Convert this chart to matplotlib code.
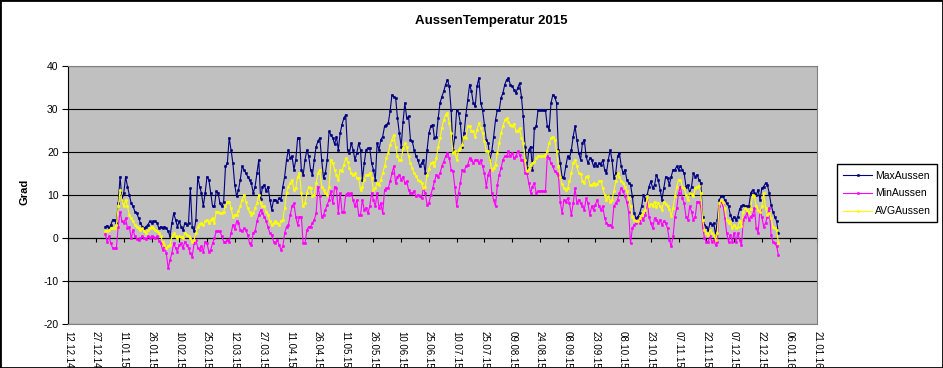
import matplotlib
matplotlib.use('Agg')
import matplotlib.pyplot as plt
import matplotlib.dates as mdates
from matplotlib.patches import Rectangle
import pandas as pd

plt.rcParams['font.family'] = ['Liberation Sans', 'DejaVu Sans']
plt.rcParams['axes.unicode_minus'] = False

# daily values 2015 (one row per month)
maxAussen = [
    2.7, 2.9, 2.3, 3.1, 4.3, 4.3, 3.5, 8.1, 14.3, 8.9, 10.5, 14.3, 12.0, 10.1, 8.1, 7.4, 6.2, 5.8, 4.7, 3.5, 2.7, 2.3, 2.7, 3.1, 3.9, 3.5, 3.9, 3.9, 3.5, 2.3, 2.7,
    2.3, 2.7, 2.3, 1.6, 0.4, 3.5, 5.8, 4.3, 2.7, 3.9, 2.7, 1.9, 3.5, 3.1, 3.5, 11.6, 2.7, 1.6, 4.3, 14.3, 12.0, 10.5, 7.4, 10.5, 14.3, 13.6, 10.5, 7.4,
    7.4, 10.9, 10.5, 8.1, 7.4, 8.5, 16.7, 17.4, 23.3, 20.5, 17.4, 12.4, 9.7, 11.2, 13.6, 16.7, 15.9, 15.1, 14.3, 13.6, 12.8, 10.5, 12.0, 15.1, 18.2, 9.0, 12.0, 12.4, 10.9, 12.0, 8.9,
    6.6, 8.9, 8.9, 8.5, 9.3, 8.9, 12.0, 14.3, 18.2, 20.5, 18.6, 19.0, 15.9, 18.2, 23.3, 23.3, 15.9, 14.7, 18.2, 20.5, 19.0, 15.9, 14.7, 18.2, 21.3, 22.5, 23.3, 18.2, 14.0, 15.1,
    18.2, 24.8, 24.0, 23.3, 21.8, 23.6, 20.5, 24.4, 26.4, 27.9, 28.7, 20.5, 19.8, 22.1, 20.5, 18.2, 19.8, 22.1, 20.5, 13.6, 17.4, 20.5, 20.9, 20.9, 17.4, 15.9, 13.6, 22.1, 20.5, 22.9, 23.6,
    26.0, 26.4, 26.7, 29.5, 33.3, 32.9, 32.6, 27.9, 24.4, 21.3, 27.1, 31.4, 27.9, 28.3, 22.9, 22.5, 20.5, 19.0, 18.2, 16.7, 17.4, 18.2, 15.1, 20.5, 24.4, 26.0, 26.4, 23.3, 23.6, 27.9,
    31.4, 32.9, 34.1, 35.7, 36.8, 35.3, 29.8, 20.5, 23.6, 29.8, 29.1, 26.7, 21.3, 24.4, 28.7, 32.2, 35.7, 34.1, 31.4, 30.6, 35.3, 37.2, 31.4, 29.8, 26.4, 22.9, 22.1, 18.2, 20.2, 23.6, 27.5,
    29.8, 29.8, 32.6, 33.7, 35.7, 36.8, 37.2, 35.7, 35.3, 34.5, 33.7, 34.9, 36.0, 32.9, 28.3, 21.3, 16.3, 20.5, 21.3, 15.9, 25.6, 26.0, 29.8, 29.8, 29.8, 29.8, 29.8, 26.0, 25.2, 31.4, 33.3,
    32.9, 31.4, 20.5, 17.4, 14.3, 14.0, 16.7, 19.0, 18.6, 20.5, 23.6, 26.0, 22.9, 19.8, 18.2, 22.1, 22.9, 19.0, 17.4, 18.6, 18.2, 16.7, 17.4, 16.7, 17.4, 17.1, 18.2, 15.9, 15.1, 18.2,
    20.5, 18.2, 14.0, 15.1, 19.0, 19.8, 16.7, 15.1, 15.9, 13.6, 12.8, 12.4, 9.7, 5.8, 4.7, 5.0, 5.8, 7.4, 10.1, 8.9, 10.1, 12.0, 13.2, 11.6, 12.4, 14.7, 13.6, 11.2, 8.9, 11.6, 14.3,
    13.9, 12.4, 14.3, 15.9, 15.9, 16.7, 15.9, 16.8, 15.9, 15.1, 12.0, 12.4, 10.5, 12.0, 15.1, 14.3, 14.7, 13.6, 12.8, 5.0, 3.1, 2.7, 1.9, 3.5, 3.1, 3.5, 0.8, 4.3, 8.9, 9.7,
    9.7, 8.9, 8.1, 7.4, 5.4, 4.3, 5.0, 4.3, 5.0, 6.8, 7.4, 7.8, 7.4, 7.4, 7.4, 10.5, 11.2, 10.5, 10.1, 11.2, 8.9, 11.6, 12.0, 12.8, 12.4, 10.5, 7.8, 6.2, 5.0, 3.9, 1.2,
]
minAussen = [
    1.0, -0.8, 0.4, -1.2, -2.3, -2.3, -2.3, 2.7, 6.2, 3.9, 3.5, 4.6, 2.3, 2.7, 0.0, 1.9, 0.4, -0.2, -0.4, 0.0, 0.4, 0.0, -0.2, 0.4, 0.0, 0.5, 0.2, 0.0, 0.4, -0.6, -1.2,
    -2.7, -1.9, -3.5, -7.0, -5.0, -3.5, -1.2, -2.3, -3.1, -1.6, -1.2, -2.3, -0.8, -1.6, -2.3, -3.5, -4.3, -1.2, -0.4, -2.3, -2.7, -1.9, -3.1, -0.8, -1.2, -3.1, -2.7, -1.2,
    0.0, 1.6, 1.6, 1.6, 0.4, -0.8, -0.8, -0.4, -0.8, 1.2, 3.1, 2.1, 3.9, 3.5, 1.9, 1.6, 2.3, 1.9, 0.8, -1.2, -1.6, 1.2, 1.6, 3.9, 5.4, 6.5, 5.8, 5.0, 4.0, 2.5, 1.2,
    0.8, -0.8, -1.2, -0.4, -1.6, -2.7, -1.9, 1.2, 2.7, 3.1, 5.4, 7.4, 8.1, 5.0, 3.1, 5.0, 5.0, -1.2, -1.2, 1.9, 2.7, 2.7, 3.5, 4.3, 5.8, 12.0, 9.7, 5.0, 5.4, 6.6,
    7.8, 8.9, 10.9, 8.1, 12.0, 11.6, 5.8, 10.5, 6.2, 6.2, 10.1, 10.5, 10.1, 10.5, 8.9, 7.4, 8.9, 5.4, 5.4, 8.9, 6.6, 7.0, 5.8, 7.4, 10.5, 8.9, 7.4, 10.5, 7.0, 8.1, 5.8,
    11.2, 11.6, 11.6, 13.2, 15.1, 16.7, 12.8, 14.3, 14.7, 13.6, 14.3, 12.8, 13.2, 11.2, 10.5, 10.5, 10.9, 9.7, 10.1, 9.7, 9.3, 11.6, 10.5, 7.8, 8.1, 10.1, 11.6, 13.2, 14.7, 14.3,
    15.1, 16.7, 17.8, 19.0, 19.8, 18.6, 15.9, 15.5, 12.0, 7.4, 10.5, 12.8, 15.9, 15.5, 16.7, 17.1, 18.6, 18.2, 17.4, 18.2, 18.2, 17.4, 18.2, 16.7, 15.1, 12.0, 14.7, 15.9, 10.5, 8.9, 7.4,
    12.4, 14.7, 16.3, 18.2, 19.0, 19.0, 20.2, 19.0, 19.8, 18.6, 19.0, 20.2, 19.4, 18.2, 18.2, 15.1, 15.1, 12.8, 10.5, 12.0, 12.8, 10.5, 10.9, 10.9, 10.9, 10.9, 10.9, 19.0, 18.6, 17.4, 16.7,
    15.5, 15.1, 14.7, 8.5, 5.8, 8.9, 8.5, 9.3, 8.1, 5.4, 8.1, 11.6, 8.1, 8.9, 8.1, 7.4, 6.6, 9.3, 8.1, 5.4, 7.4, 6.6, 7.8, 8.9, 7.4, 6.6, 7.4, 4.7, 3.5, 3.1,
    3.1, 2.7, 7.4, 8.1, 8.9, 10.5, 11.6, 10.9, 9.7, 8.5, 6.0, -1.2, 2.3, 3.1, 3.6, 4.3, 3.5, 4.7, 4.3, 5.4, 8.9, 5.0, 3.5, 2.3, 4.7, 4.3, 3.5, 4.3, 3.1, 3.9, 3.5,
    2.3, -0.4, -1.9, 0.4, 5.0, 7.0, 10.5, 12.0, 9.3, 8.1, 5.0, 4.3, 7.4, 6.2, 4.3, 5.0, 8.5, 8.5, 7.4, 2.7, 0.0, -0.8, -0.8, 0.4, -0.8, -0.4, -1.6, -0.8, 7.4, 8.3,
    7.8, 4.7, 1.2, -0.8, 0.8, -0.8, 1.2, -0.8, 1.2, -0.4, -1.6, 4.3, 5.0, 5.8, 4.3, 5.0, 5.4, 7.0, 2.3, 1.2, 6.6, 5.0, 2.7, 3.5, 5.0, 7.0, 0.8, -0.8, -1.2, -1.9, -4.0,
]
avgAussen = [
    1.6, 1.6, 1.9, 2.3, 2.3, 2.3, 3.1, 7.4, 11.2, 8.9, 7.4, 8.9, 7.4, 5.4, 4.7, 3.9, 3.1, 2.7, 2.3, 1.9, 2.3, 1.6, 1.2, 1.9, 2.3, 2.7, 2.3, 1.9, 1.6, 1.2, 0.4,
    -0.8, -1.6, -2.3, -1.9, -1.6, 0.4, 1.2, 0.4, 0.0, 0.5, 0.2, 0.0, 1.2, 0.8, 0.4, 0.0, -0.8, -0.4, 1.2, 2.7, 3.3, 3.5, 3.1, 3.9, 4.3, 3.5, 4.3, 4.7,
    3.6, 6.2, 6.0, 5.8, 5.8, 6.2, 7.4, 8.5, 8.5, 7.0, 5.0, 5.4, 5.4, 6.4, 7.4, 8.9, 10.1, 8.5, 7.0, 6.0, 5.4, 5.8, 7.0, 8.1, 10.1, 8.1, 7.4, 7.4, 6.2, 5.4, 3.9,
    3.1, 3.5, 3.9, 3.5, 3.1, 3.9, 4.3, 7.0, 10.5, 12.0, 12.8, 13.6, 11.2, 11.6, 14.3, 15.1, 10.5, 7.4, 8.1, 10.5, 12.0, 11.6, 9.7, 10.1, 12.8, 15.1, 15.9, 12.0, 11.2, 10.5,
    10.1, 12.0, 18.2, 17.4, 15.9, 14.7, 13.6, 15.9, 15.5, 17.1, 18.6, 17.8, 16.3, 15.1, 14.7, 15.1, 14.0, 14.0, 11.2, 12.0, 13.6, 14.7, 14.7, 15.1, 14.0, 11.2, 11.6, 12.8, 12.4, 13.6, 15.1,
    16.7, 18.6, 19.8, 21.7, 22.9, 24.0, 21.3, 19.0, 18.2, 18.2, 20.9, 22.1, 21.3, 19.0, 17.4, 16.3, 15.1, 14.5, 13.6, 13.2, 12.8, 11.6, 12.0, 14.7, 16.0, 17.4, 17.6, 16.7, 18.6, 21.2,
    23.2, 25.6, 27.5, 28.7, 29.1, 26.7, 24.4, 19.8, 20.2, 18.2, 20.5, 20.9, 21.7, 23.6, 23.3, 26.0, 26.0, 24.8, 24.8, 23.6, 25.2, 26.7, 25.6, 24.4, 22.5, 20.2, 20.2, 18.2, 15.9, 16.3, 17.1,
    19.8, 22.1, 24.4, 26.0, 27.4, 27.9, 27.1, 26.4, 26.0, 26.6, 25.0, 24.8, 25.6, 23.3, 22.1, 18.2, 15.5, 16.0, 17.1, 17.4, 17.8, 18.6, 19.0, 19.0, 19.0, 19.0, 19.4, 20.2, 22.1, 23.3, 23.6,
    22.9, 20.2, 16.7, 14.3, 12.6, 11.6, 11.2, 11.6, 13.2, 15.1, 17.4, 18.2, 16.7, 15.1, 14.9, 13.4, 12.8, 14.3, 14.5, 12.4, 12.4, 12.8, 12.4, 12.6, 13.2, 13.4, 11.6, 10.1, 8.9, 9.7,
    8.5, 8.9, 10.9, 13.2, 15.1, 14.3, 13.2, 12.9, 12.0, 10.9, 9.3, 7.4, 5.0, 4.3, 4.1, 3.9, 4.7, 5.4, 6.2, 6.6, 9.7, 7.4, 8.0, 7.4, 8.5, 7.2, 8.1, 7.4, 6.6, 8.5, 8.0,
    7.4, 6.7, 5.2, 7.0, 9.7, 12.0, 13.6, 13.6, 12.0, 11.6, 10.1, 8.9, 10.5, 10.3, 9.7, 11.6, 12.0, 12.2, 10.5, 4.3, 1.9, 1.2, 0.8, 1.9, 1.2, 0.8, -0.4, 1.2, 8.1, 8.9,
    8.3, 7.0, 4.3, 3.5, 3.9, 2.3, 3.1, 2.3, 2.7, 3.9, 2.9, 6.2, 7.0, 6.6, 5.8, 6.7, 10.1, 9.7, 7.4, 6.6, 6.2, 7.4, 10.5, 7.0, 5.4, 5.8, 4.7, 2.7, 2.3, 1.9, -1.2,
]

days = pd.date_range('2015-01-01', '2015-12-31', freq='D')
x = mdates.date2num(days)
tickNums = mdates.date2num(pd.date_range('2014-12-12', '2016-01-21', freq='15D'))
yMin, yMax = -20, 40

fig = plt.figure(figsize=(9.43, 3.68), dpi=100)
fig.patches.append(Rectangle((0, 0), 1, 1, transform=fig.transFigure, fill=False,
                             edgecolor='black', linewidth=2))
ax = fig.add_axes([68.3 / 943, 1 - 324.3 / 368, (817.3 - 68.3) / 943, (324.3 - 66) / 368])
ax.set_facecolor('#c0c0c0')

lineStyle = dict(lw=0.8, marker='s', ms=1.3, mew=0.5)
ax.plot(x, maxAussen, color='#000080', label='MaxAussen', **lineStyle)
ax.plot(x, minAussen, color='#ff00ff', label='MinAussen', **lineStyle)
ax.plot(x, avgAussen, color='#ffff00', label='AVGAussen', **lineStyle)

ax.set_xlim(tickNums[0], tickNums[-1])
ax.set_ylim(yMin, yMax)
ax.set_yticks(range(yMin, yMax + 1, 10))
ax.set_xticks(tickNums)
ax.xaxis.set_major_formatter(mdates.DateFormatter('%d.%m.%y'))
ax.tick_params(axis='x', length=0, labelsize=7, labelrotation=270, pad=5)
ax.tick_params(axis='y', length=4, direction='out', labelsize=7.5, pad=3)

ax.set_axisbelow(True)
ax.yaxis.grid(True, color='black', linewidth=0.8)
for side in ['top', 'right', 'bottom']:
    ax.spines[side].set_color('#808080')
ax.spines['left'].set_color('black')

# category axis crossing at zero, with small tick marks
zeroAxis = ax.secondary_xaxis((0 - yMin) / (yMax - yMin))
zeroAxis.set_xticks(tickNums)
zeroAxis.xaxis.set_ticks_position('bottom')
zeroAxis.tick_params(axis='x', direction='out', length=3, labelbottom=False, labeltop=False)
zeroAxis.spines['bottom'].set_color('black')

fig.text(0.521, 0.943, 'AussenTemperatur 2015', ha='center', va='center',
         fontsize=9.5, fontweight='bold')
fig.text(25 / 943, 0.478, 'Grad', rotation=90, ha='center', va='center',
         fontsize=8, fontweight='bold')

ax.legend(loc='upper left', bbox_to_anchor=(836.7 / 943, 1 - 164.3 / 368),
          bbox_transform=fig.transFigure, borderaxespad=0, fancybox=False,
          edgecolor='black', framealpha=1, fontsize=7.5, handlelength=2.8,
          handletextpad=0.3, labelspacing=0.75, borderpad=0.6)

fig.savefig('out.png', dpi=100)
